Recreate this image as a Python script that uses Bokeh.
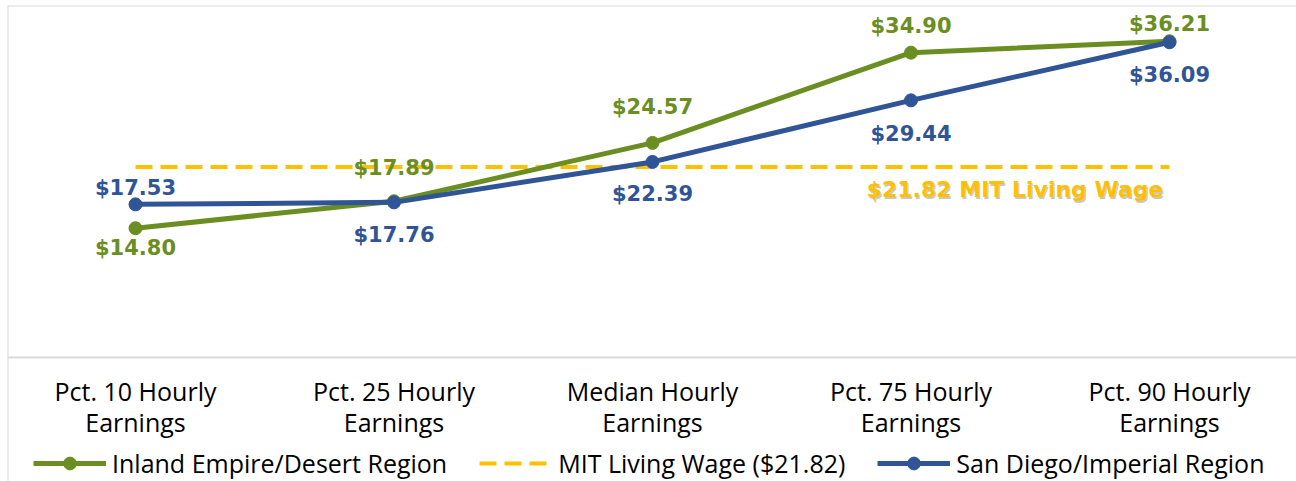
from bokeh.plotting import figure
from bokeh.models import Range1d, Legend, LegendItem, ColumnDataSource, Span
from bokeh.embed import file_html
from bokeh.resources import INLINE
from bokeh.core.properties import value

# ---- data ----
categories = ["Pct. 10 Hourly\nEarnings", "Pct. 25 Hourly\nEarnings", "Median Hourly\nEarnings",
              "Pct. 75 Hourly\nEarnings", "Pct. 90 Hourly\nEarnings"]
inland = [14.80, 17.89, 24.57, 34.90, 36.21]
sandiego = [17.53, 17.76, 22.39, 29.44, 36.09]
living_wage = 21.82
series_names = ["Inland Empire/Desert Region", "MIT Living Wage ($21.82)", "San Diego/Imperial Region"]
living_wage_label = "$21.82 MIT Living Wage"

# ---- styles ----
GREEN = "#6B8E23"
BLUE = "#2F5597"
YELLOW = "#FFC000"
GRID = "#D9D9D9"
LABEL_FONT = "DejaVu Sans"
AXIS_FONT = "Open Sans"
inland_offsets = [20, -33, -36, -27, -17]
sandiego_offsets = [-16, 33, 32, 34, 33]

xs = list(range(len(categories)))

p = figure(width=1296, height=481, x_range=Range1d(-0.4952, 4.4913), y_range=Range1d(-14.2, 40.3),
           output_backend="svg", toolbar_location=None,
           min_border_left=7, min_border_right=0, min_border_top=5, min_border_bottom=0)
p.outline_line_color = None
p.xgrid.visible = False
p.ygrid.visible = False
p.xaxis.visible = False
p.yaxis.visible = False
p.background_fill_color = "white"
p.border_fill_color = "white"

# chart border (top / left) and category axis line
p.add_layout(Span(location=p.y_range.end, dimension="width", line_color=GRID, line_width=2))
p.add_layout(Span(location=p.x_range.start, dimension="height", line_color=GRID, line_width=2))
p.add_layout(Span(location=0, dimension="width", line_color=GRID, line_width=2))

# category labels (two lines each)
cat_src = ColumnDataSource(dict(x=xs, y=[0] * len(xs),
                                l1=[c.split("\n")[0] for c in categories],
                                l2=[c.split("\n")[1] for c in categories]))
for col, off in (("l1", 34), ("l2", 65)):
    p.text("x", "y", text=col, source=cat_src, y_offset=off, text_color="#000000",
           text_font=value(AXIS_FONT), text_font_size="25px",
           text_align="center", text_baseline="alphabetic")

# living wage line
lw_src = ColumnDataSource(dict(x=[xs[0], xs[-1]], y=[living_wage, living_wage]))
lw = p.line("x", "y", source=lw_src, line_color=YELLOW, line_width=4, line_dash="17 8")

g_src = ColumnDataSource(dict(x=xs, y=inland, t=[f"${v:.2f}" for v in inland], off=inland_offsets))
b_src = ColumnDataSource(dict(x=xs, y=sandiego, t=[f"${v:.2f}" for v in sandiego], off=sandiego_offsets))

gl = p.line("x", "y", source=g_src, line_color=GREEN, line_width=5)
gs = p.scatter("x", "y", source=g_src, size=13, fill_color=GREEN, line_color=GREEN)
bl = p.line("x", "y", source=b_src, line_color=BLUE, line_width=5)
bs = p.scatter("x", "y", source=b_src, size=13, fill_color=BLUE, line_color=BLUE)

p.text("x", "y", text="t", y_offset="off", source=g_src, text_color=GREEN,
       text_font=value(LABEL_FONT), text_font_style="bold", text_font_size="21px",
       text_align="center", text_baseline="middle")
p.text("x", "y", text="t", y_offset="off", source=b_src, text_color=BLUE,
       text_font=value(LABEL_FONT), text_font_style="bold", text_font_size="21px",
       text_align="center", text_baseline="middle")

# living wage label with shadow
lwl_src = ColumnDataSource(dict(x=[xs[-1]], y=[living_wage], t=[living_wage_label]))
p.text("x", "y", text="t", source=lwl_src, x_offset=-5, y_offset=25, text_color="#7F7F7F", text_alpha=0.45,
       text_font=value(LABEL_FONT), text_font_style="bold", text_font_size="22px",
       text_align="right", text_baseline="middle")
p.text("x", "y", text="t", source=lwl_src, x_offset=-6, y_offset=23, text_color=YELLOW,
       text_font=value(LABEL_FONT), text_font_style="bold", text_font_size="22px",
       text_align="right", text_baseline="middle")

legend = Legend(items=[LegendItem(label=series_names[0], renderers=[gl, gs]),
                       LegendItem(label=series_names[1], renderers=[lw]),
                       LegendItem(label=series_names[2], renderers=[bl, bs])],
                orientation="horizontal", location=(26, 1),
                label_text_font=AXIS_FONT, label_text_font_size="25px", label_text_color="#000000",
                glyph_width=73, glyph_height=32, label_standoff=6, spacing=32,
                padding=0, margin=0, border_line_color=None, background_fill_alpha=0)
p.add_layout(legend, "center")

open("out.html", "w").write(file_html(p, INLINE))
